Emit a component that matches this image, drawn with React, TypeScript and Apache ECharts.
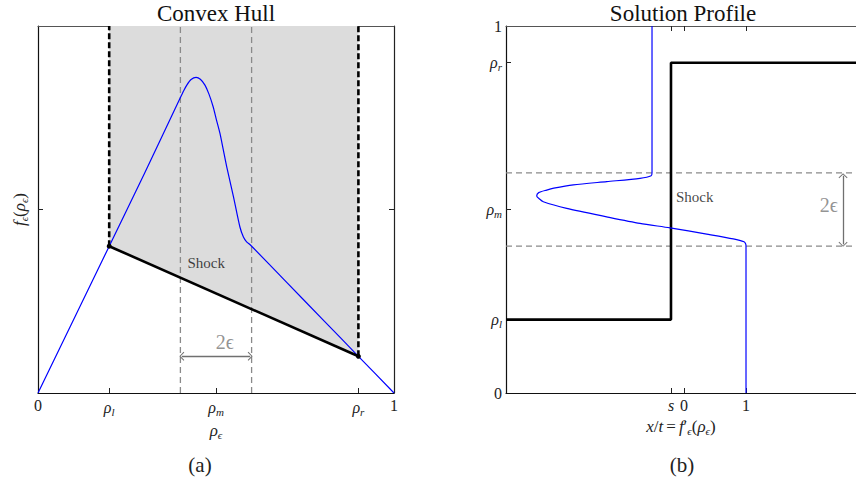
import React, { useEffect, useRef } from 'react';
import * as echarts from 'echarts';

const SERIF = 'Liberation Serif, serif';

// ---------- Panel (a): convex hull ----------
const hullTickValues = [0.2, 0.4, 0.5, 0.6, 0.9];
const hullLabelValues = [0, 0.2, 0.5, 0.9, 1];
const hullLabels = ['{n|0}', '{m|ρ}{s|l}', '{m|ρ}{s|m}', '{m|ρ}{s|r}', '{n|1}'];
const hullYTicks = [0.5];

const fluxCurve: [number, number][] = [
  [0, 0], [0.2, 0.4], [0.3, 0.6], [0.399, 0.803], [0.41, 0.825], [0.418, 0.839], [0.43, 0.854],
  [0.444, 0.86], [0.456, 0.855], [0.469, 0.839], [0.48, 0.815], [0.492, 0.78],
  [0.501, 0.745], [0.511, 0.708], [0.52, 0.665], [0.53, 0.617], [0.549, 0.535],
  [0.567, 0.453], [0.577, 0.425], [0.586, 0.412], [0.598, 0.402], [0.7, 0.3], [0.8, 0.2], [0.9, 0.1], [1, 0],
];
const shockLine: [number, number][] = [[0.2, 0.4], [0.9, 0.1]];
const leftDashed: [number, number][] = [[0.2, 0.4], [0.2, 1]];
const rightDashed: [number, number][] = [[0.9, 0.1], [0.9, 1]];
const epsLeft: [number, number][] = [[0.4, 0], [0.4, 1]];
const epsRight: [number, number][] = [[0.6, 0], [0.6, 1]];
const hullArrow: [number, number][] = [[0.404, 0.1], [0.596, 0.1]];
const hullShockText: [number, number] = [0.42, 0.354];
const hullEpsText: [number, number] = [0.525, 0.14];

// ---------- Panel (b): solution profile ----------
const profXMin = -2.871;
const profXMax = 2.774;
const shockSpeed = -0.21;
const profTickValues = [shockSpeed, 0, 1];
const profTickLabels = ['{m|s}', '{n|0}', '{n|1}'];
const profYLabelValues = [0, 0.2, 0.5, 0.9, 1];
const profYLabels = ['{n|0}', '{m|ρ}{s|l}', '{m|ρ}{s|m}', '{m|ρ}{s|r}', '{n|1}'];
const profYTicks = [0.2, 0.5, 0.9];
const rhoL = 0.2;
const rhoR = 0.9;
const rhoLow = 0.4;
const rhoHigh = 0.6;

const exactSolution: [number, number][] = [
  [profXMin, rhoL], [shockSpeed, rhoL], [shockSpeed, rhoR], [profXMax, rhoR],
];
const profileCurve: [number, number][] = [
  [-0.516, 1.0], [-0.516, 0.8], [-0.516, 0.6], [-0.53, 0.592], [-0.71, 0.585], [-1.247, 0.576],
  [-1.785, 0.567], [-2.1, 0.558], [-2.215, 0.553], [-2.344, 0.546], [-2.376, 0.537],
  [-2.333, 0.529], [-2.269, 0.521], [-1.892, 0.503], [-1.247, 0.48], [-0.71, 0.462],
  [-0.226, 0.45], [0.366, 0.433], [0.795, 0.42], [0.968, 0.412], [0.995, 0.406],
  [1.0, 0.4], [1.0, 0.2], [1.0, 0],
];
const profArrow: [number, number][] = [[2.565, 0.592], [2.565, 0.405]];
const profShockText: [number, number] = [-0.13, 0.534];
const profEpsText: [number, number] = [2.48, 0.512];

const rich = {
  n: { fontFamily: SERIF, fontSize: 16, color: '#222' },
  m: { fontFamily: SERIF, fontStyle: 'italic', fontSize: 16, color: '#222' },
  s: { fontFamily: SERIF, fontStyle: 'italic', fontSize: 11, color: '#222', padding: [9, 0, 0, 0] },
};
const richName = {
  n: { fontFamily: SERIF, fontSize: 17, color: '#222' },
  m: { fontFamily: SERIF, fontStyle: 'italic', fontSize: 17, color: '#222' },
  s: { fontFamily: SERIF, fontStyle: 'italic', fontSize: 11, color: '#222', padding: [9, 0, 0, 0] },
};

const chevron = 'path://M10,0 L20,9 L18.5,10.5 L10,2.6 L1.5,10.5 L0,9 Z';

function pick(values: number[], labels: string[]) {
  return (v: number) => {
    for (let i = 0; i < values.length; i++) if (Math.abs(values[i] - v) < 1e-6) return labels[i];
    return '';
  };
}

function lineSeries(data: [number, number][], xi: number, yi: number, color: string, width: number, type: any, z = 3, smooth: any = false) {
  return {
    type: 'line', xAxisIndex: xi, yAxisIndex: yi, data, showSymbol: false, symbol: 'none', z, smooth,
    lineStyle: { color, width, type }, silent: true,
  };
}

function textSeries(p: [number, number], xi: number, yi: number, text: string, pos: string, fontSize: number, color: string) {
  return {
    type: 'scatter', xAxisIndex: xi, yAxisIndex: yi, data: [p], symbolSize: 0, silent: true, z: 6,
    label: {
      show: true, position: pos, distance: 0, formatter: text,
      fontFamily: SERIF, fontSize, color,
    },
  };
}

function arrowMark(p: [number, number][], xi: number, yi: number) {
  return {
    type: 'line', xAxisIndex: xi, yAxisIndex: yi, data: [], silent: true, z: 5,
    markLine: {
      silent: true, animation: false,
      symbol: [chevron, chevron], symbolSize: [9, 5],
      lineStyle: { color: '#707070', width: 1.3, type: 'solid' },
      label: { show: false },
      data: [[{ coord: p[0] }, { coord: p[1] }]],
    },
  };
}

const baseX = (gridIndex: number, min: number, max: number, position: string, ticks: number[], lineColor: string) => ({
  type: 'value', gridIndex, min, max, position,
  axisLine: { show: true, onZero: false, lineStyle: { color: lineColor, width: 1.2 } },
  axisTick: { show: true, inside: true, length: 5, customValues: ticks, lineStyle: { color: '#222', width: 1 } },
  splitLine: { show: false },
  axisLabel: { show: false },
});

const textStyle = (text: string, size: number, fill: string) => ({
  text, font: `${size}px ${SERIF}`, fill,
  textAlign: 'center', textVerticalAlign: 'middle', align: 'center', verticalAlign: 'middle',
});

const option: any = {
  animation: false,
  backgroundColor: '#fff',
  textStyle: { fontFamily: SERIF },
  grid: [
    { left: 38, top: 26, width: 356, height: 367 },
    { left: 506, top: 26, width: 350, height: 367 },
  ],
  xAxis: [
    {
      ...baseX(0, 0, 1, 'bottom', hullTickValues, '#111'),
      axisLabel: { show: true, customValues: hullLabelValues, formatter: pick(hullLabelValues, hullLabels), rich, margin: 4 },
      name: '{m|ρ}{s|ϵ}', nameLocation: 'middle', nameGap: 5, nameTextStyle: { rich: richName },
    },
    baseX(0, 0, 1, 'top', hullTickValues, '#555'),
    {
      ...baseX(1, profXMin, profXMax, 'bottom', profTickValues, '#111'),
      axisLabel: { show: true, customValues: profTickValues, formatter: pick(profTickValues, profTickLabels), rich, margin: 4 },
      name: "{m|x}{n|/}{m|t} {n|=} {m|f}{n|′}{s|ϵ}{n|(}{m|ρ}{s|ϵ}{n|)}", nameLocation: 'middle', nameGap: 11,
      nameTextStyle: { rich: richName },
    },
    baseX(1, profXMin, profXMax, 'top', profTickValues, '#555'),
  ],
  yAxis: [
    {
      type: 'value', gridIndex: 0, min: 0, max: 1, position: 'left',
      axisLine: { show: true, onZero: false, lineStyle: { color: '#111', width: 1.2 } },
      axisTick: { show: true, inside: true, length: 5, customValues: hullYTicks, lineStyle: { color: '#222' } },
      axisLabel: { show: false }, splitLine: { show: false },
      name: '{m|f}{s|ϵ}{n|(}{m|ρ}{s|ϵ}{n|)}', nameLocation: 'middle', nameGap: 9, nameRotate: 90,
      nameTextStyle: { rich: richName },
    },
    {
      type: 'value', gridIndex: 0, min: 0, max: 1, position: 'right',
      axisLine: { show: true, onZero: false, lineStyle: { color: '#222', width: 1.2 } },
      axisTick: { show: true, inside: true, length: 5, customValues: hullYTicks, lineStyle: { color: '#222' } },
      axisLabel: { show: false }, splitLine: { show: false },
    },
    {
      type: 'value', gridIndex: 1, min: 0, max: 1, position: 'left',
      axisLine: { show: true, onZero: false, lineStyle: { color: '#111', width: 1.2 } },
      axisTick: { show: true, inside: true, length: 5, customValues: profYTicks, lineStyle: { color: '#222' } },
      axisLabel: { show: true, customValues: profYLabelValues, formatter: pick(profYLabelValues, profYLabels), rich, margin: 4 },
      splitLine: { show: false },
    },
  ],
  graphic: [
    { type: 'text', x: 216, y: 13, style: textStyle('Convex Hull', 23, '#111') },
    { type: 'text', x: 683, y: 13, style: textStyle('Solution Profile', 23, '#111') },
    { type: 'text', x: 200, y: 465, style: textStyle('(a)', 21, '#222') },
    { type: 'text', x: 682, y: 465, style: textStyle('(b)', 21, '#222') },
  ],
  series: [
    // panel (a)
    {
      type: 'line', xAxisIndex: 0, yAxisIndex: 0, data: shockLine, showSymbol: false, symbol: 'none', silent: true, z: 1,
      lineStyle: { width: 0, opacity: 0 }, areaStyle: { color: '#dcdcdc', opacity: 1, origin: 'end' },
    },
    lineSeries(epsLeft, 0, 0, '#8a8a8a', 1.3, [6, 4], 2),
    lineSeries(epsRight, 0, 0, '#8a8a8a', 1.3, [6, 4], 2),
    lineSeries(leftDashed, 0, 0, '#000', 2.6, [6, 3], 3),
    lineSeries(rightDashed, 0, 0, '#000', 2.6, [6, 3], 3),
    lineSeries(fluxCurve, 0, 0, '#0000ff', 1.2, 'solid', 4, 0.25),
    {
      type: 'line', xAxisIndex: 0, yAxisIndex: 0, data: shockLine, silent: true, z: 5,
      showSymbol: true, symbol: 'circle', symbolSize: 5, itemStyle: { color: '#000' },
      lineStyle: { color: '#000', width: 2.6 },
    },
    textSeries(hullShockText, 0, 0, 'Shock', 'right', 15, '#111'),
    arrowMark(hullArrow, 0, 0),
    textSeries(hullEpsText, 0, 0, '2ϵ', 'inside', 20, '#777'),
    // panel (b)
    lineSeries([[profXMin, rhoHigh], [profXMax, rhoHigh]], 2, 2, '#8a8a8a', 1.3, [6, 4], 2),
    lineSeries([[profXMin, rhoLow], [profXMax, rhoLow]], 2, 2, '#8a8a8a', 1.3, [6, 4], 2),
    lineSeries(exactSolution, 2, 2, '#000', 2.6, 'solid', 3),
    lineSeries(profileCurve, 2, 2, '#0000ff', 1.2, 'solid', 4, 0.25),
    textSeries(profShockText, 2, 2, 'Shock', 'right', 15, '#111'),
    arrowMark(profArrow, 2, 2),
    textSeries(profEpsText, 2, 2, '2ϵ', 'left', 20, '#777'),
  ],
};

export default function App() {
  const ref = useRef<HTMLDivElement>(null);
  useEffect(() => {
    const chart = echarts.init(ref.current as HTMLDivElement, null, { renderer: 'svg' });
    chart.setOption(option);
    return () => chart.dispose();
  }, []);
  return (
    <div
      ref={ref}
      style={{ position: 'absolute', left: 0, top: 0, width: 856, height: 484, background: '#fff' }}
    />
  );
}
